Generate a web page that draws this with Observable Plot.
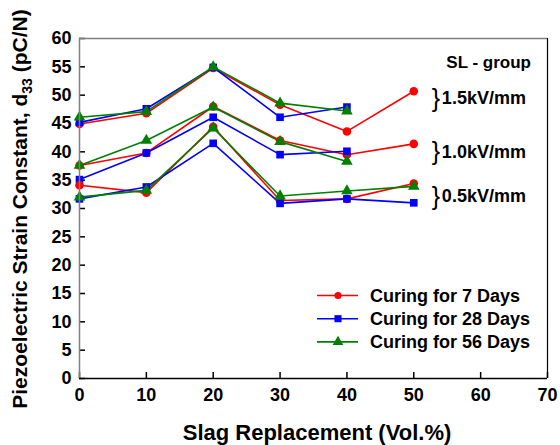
<!DOCTYPE html>
<html><head><meta charset="utf-8">
<script src="https://cdn.jsdelivr.net/npm/d3@7"></script>
<script src="https://cdn.jsdelivr.net/npm/@observablehq/plot@0.6"></script>
<style>body{margin:0;background:#fff} #chart{width:560px;height:445px}</style>
</head><body><div id="chart"></div>
<script>
// ---- data ----
const slag = [0, 10, 20, 30, 40, 50];
const curing = ["Curing for 7 Days", "Curing for 28 Days", "Curing for 56 Days"];
const colors = ["#ff0000", "#0000ff", "#008000"];
const symbols = ["circle", "square", "triangle"];
const fields = ["1.5kV/mm", "1.0kV/mm", "0.5kV/mm"];

// 1.5 kV/mm
const d7_15  = [44.9, 46.8, 54.8, 48.3, 43.6, 50.7];
const d28_15 = [45.2, 47.6, 54.9, 46.1, 47.9];
const d56_15 = [46.1, 47.1, 55.0, 48.6, 47.2];
// 1.0 kV/mm
const d7_10  = [37.6, 39.8, 48.0, 42.0, 39.5, 41.4];
const d28_10 = [35.1, 39.8, 46.1, 39.5, 40.1];
const d56_10 = [37.6, 42.0, 47.9, 41.8, 38.3];
// 0.5 kV/mm
const d7_05  = [34.1, 32.8, 44.4, 31.4, 31.7, 34.4];
const d28_05 = [31.7, 33.8, 41.5, 30.9, 31.7, 31.0];
const d56_05 = [32.0, 33.2, 44.2, 32.2, 33.1, 33.9];

const xTicks = [0, 10, 20, 30, 40, 50, 60, 70];
const yTicks = [0, 5, 10, 15, 20, 25, 30, 35, 40, 45, 50, 55, 60];

const groupLabel = "SL - group";
const fieldLabelY = [49.4, 39.9, 32.1];

// ---- table ----
const seriesList = [
  [0, 0, d7_15], [1, 0, d28_15], [2, 0, d56_15],
  [0, 1, d7_10], [1, 1, d28_10], [2, 1, d56_10],
  [0, 2, d7_05], [1, 2, d28_05], [2, 2, d56_05]
];
const rows = [];
for (const [c, f, vals] of seriesList) {
  vals.forEach((v, i) => rows.push({x: slag[i], y: v, curing: curing[c], field: fields[f], key: c + "-" + f}));
}

const font = "'Liberation Sans', Arial, Helvetica, sans-serif";
const plot = Plot.plot({
  width: 560, height: 445,
  marginLeft: 79, marginRight: 13, marginTop: 38, marginBottom: 67,
  style: {fontFamily: font, fontSize: "18px", fontWeight: "bold", color: "#000", background: "#fff"},
  x: {domain: [0, 70], label: null},
  y: {domain: [0, 60], label: null},
  color: {domain: curing, range: colors},
  symbol: {domain: curing, range: symbols},
  marks: [
    Plot.axisX({ticks: xTicks, tickSize: 0, tickPadding: 10, label: null, fontSize: 18}),
    Plot.axisX({ticks: xTicks, tickSize: -6, tickFormat: () => "", label: null, strokeWidth: 1.5}),
    Plot.axisY({ticks: yTicks, tickSize: 0, tickPadding: 8, label: null, fontSize: 18}),
    Plot.axisY({ticks: yTicks, tickSize: -6, tickFormat: () => "", label: null, strokeWidth: 1.5}),
    Plot.line(rows, {x: "x", y: "y", z: "key", stroke: "curing", strokeWidth: 1.6}),
    Plot.dot(rows, {x: "x", y: "y", fill: "curing", stroke: "none", symbol: "curing", r: 4.3}),
    Plot.text([groupLabel], {x: 61.2, y: 55.8, text: d => d, fontSize: 17, fontWeight: "bold"}),
    Plot.text(fields, {x: 53.3, y: (d, i) => fieldLabelY[i], text: () => "}", fontSize: 25, fontWeight: "normal"}),
    Plot.text(fields, {x: 54.2, y: (d, i) => fieldLabelY[i], text: d => d, textAnchor: "start", fontSize: 18, fontWeight: "bold"}),
    Plot.ruleY([60], {stroke: "#808080", strokeWidth: 1.5}),
    Plot.ruleX([0], {stroke: "#808080", strokeWidth: 1.5}),
    Plot.ruleY([0], {stroke: "#000", strokeWidth: 1.5}),
    Plot.ruleX([70], {stroke: "#000", strokeWidth: 1.2})
  ]
});
document.getElementById("chart").appendChild(plot);

const svg = d3.select(plot);
// x title
svg.append("text").attr("x", 317).attr("y", 440).attr("text-anchor", "middle")
  .attr("font-family", font).attr("font-weight", "bold").attr("font-size", 22)
  .text("Slag Replacement (Vol.%)");
// y title with subscript
const yt = svg.append("text").attr("transform", "translate(27,209) rotate(-90)")
  .attr("text-anchor", "middle").attr("font-family", font).attr("font-weight", "bold").attr("font-size", 21);
yt.append("tspan").text("Piezoelectric Strain Constant, d");
yt.append("tspan").attr("font-size", 14).attr("dy", 5).text("33");
yt.append("tspan").attr("dy", -5).text(" (pC/N)");

// legend
const lg = svg.append("g").attr("font-family", font).attr("font-weight", "bold").attr("font-size", 18)
  .attr("text-anchor", "start");
const sym = [d3.symbolCircle, d3.symbolSquare, d3.symbolTriangle];
curing.forEach((c, i) => {
  const y = 295.5 + i * 23.2;
  lg.append("line").attr("x1", 317).attr("x2", 358).attr("y1", y).attr("y2", y)
    .attr("stroke", colors[i]).attr("stroke-width", 1.6);
  lg.append("path").attr("d", d3.symbol(sym[i], i === 0 ? 40 : 50)())
    .attr("transform", `translate(338,${y})`).attr("fill", colors[i]);
  lg.append("text").attr("x", 370).attr("y", y).attr("dy", "0.35em").attr("text-anchor", "start").text(c);
});
</script>
</body></html>
